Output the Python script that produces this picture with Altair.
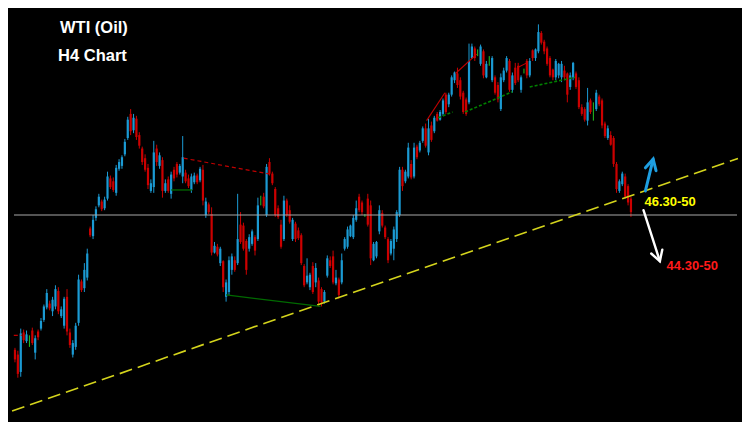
import altair as alt
import pandas as pd

# ---- H4 candles (price in USD) ----
OPEN = [42.15, 42.00, 41.46, 42.69, 42.42, 42.45, 42.75, 42.06, 42.72, 42.81,
        43.08, 43.47, 43.59, 43.35, 43.50, 43.98, 43.20, 42.90, 43.80, 42.69,
        42.00, 42.24, 42.99, 44.28, 44.07, 44.40, 45.93, 45.69, 46.26, 46.65,
        46.77, 46.56, 46.86, 47.49, 47.40, 47.04, 47.79, 47.88, 48.24, 48.75,
        49.50, 48.99, 49.35, 48.84, 48.42, 48.12, 47.82, 47.10, 47.22, 48.42,
        47.88, 48.06, 47.10, 47.46, 47.01, 47.76, 47.94, 47.67, 47.55, 47.67,
        47.49, 47.13, 47.37, 47.58, 47.43, 47.76, 46.35, 46.68, 46.38, 45.18,
        45.36, 44.85, 44.91, 43.80, 43.95, 44.64, 44.94, 44.85, 46.05, 46.02,
        45.54, 45.30, 45.45, 45.66, 45.60, 46.80, 46.92, 46.35, 48.00, 47.64,
        47.16, 46.56, 46.05, 45.60, 46.80, 46.50, 45.60, 46.08, 45.87, 45.72,
        44.76, 44.25, 44.10, 44.76, 44.25, 44.31, 44.04, 43.65, 44.46, 44.94,
        45.06, 44.22, 44.34, 44.25, 45.30, 45.36, 45.69, 45.66, 46.20, 46.92,
        46.74, 46.32, 46.86, 46.65, 44.94, 45.06, 45.84, 46.41, 45.96, 45.60,
        45.15, 45.30, 45.60, 46.35, 47.76,
        47.40, 47.55, 47.94, 47.55, 48.48,
        48.36, 48.66, 49.05, 48.30, 49.14, 48.96, 49.50, 49.32, 49.50, 50.10,
        49.80, 50.10, 50.55, 50.76, 50.55, 50.16, 49.95, 49.86, 51.24, 51.54,
        51.42, 51.06, 51.45, 50.64, 51.15, 50.55, 50.64, 50.40, 49.65, 50.55,
        50.85, 51.15, 50.25, 50.94, 51.00, 50.25, 50.85, 51.15, 50.70, 51.48,
        51.24, 51.45, 52.02, 51.75, 51.54, 51.24, 50.88, 50.64, 50.70, 50.64,
        50.85, 50.76, 50.34, 50.64, 50.76, 50.55, 49.71, 49.65, 49.29, 49.92,
        49.59, 49.65, 50.04, 49.92, 49.20, 48.75, 48.84, 48.75, 47.94, 47.10,
        47.31, 47.55, 47.25, 46.86]

HIGH = [42.21, 42.12, 42.81, 42.78, 42.75, 42.60, 42.84, 42.60, 42.78, 43.14,
        43.56, 44.04, 43.68, 43.80, 44.16, 44.10, 43.50, 43.80, 44.04, 42.81,
        42.45, 42.99, 44.49, 44.34, 44.85, 45.30, 45.99, 46.35, 46.62, 47.01,
        46.83, 46.92, 47.70, 47.58, 47.52, 47.91, 48.09, 48.21, 48.72, 49.41,
        49.65, 49.50, 49.44, 48.93, 48.48, 48.24, 47.94, 47.46, 48.66, 48.54,
        48.30, 48.15, 47.46, 47.55, 47.70, 47.85, 48.00, 47.94, 48.81, 47.76,
        47.61, 47.64, 47.67, 47.64, 47.85, 47.91, 46.89, 46.74, 46.59, 45.51,
        45.45, 45.36, 44.94, 44.34, 45.06, 45.15, 45.06, 47.01, 46.44, 46.11,
        45.60, 45.75, 45.90, 45.72, 46.89, 46.95, 47.04, 47.94, 48.12, 47.70,
        47.22, 46.65, 46.20, 46.95, 46.86, 46.65, 46.26, 46.14, 45.96, 45.78,
        44.82, 45.00, 44.55, 44.88, 44.85, 44.40, 44.10, 44.01, 45.09, 45.06,
        45.24, 44.64, 44.40, 45.15, 45.66, 45.99, 46.05, 46.35, 46.80, 47.01,
        46.80, 46.38, 47.01, 46.80, 45.51, 45.54, 46.65, 46.50, 46.02, 45.66,
        45.60, 45.99, 46.50, 47.85, 47.85,
        47.76, 48.60, 48.06, 48.60, 48.54,
        48.66, 49.11, 49.20, 49.35, 49.26, 49.44, 49.56, 49.62, 49.98, 50.16,
        50.16, 50.70, 50.82, 50.94, 50.64, 50.22, 50.01, 51.69, 51.69, 51.60,
        51.51, 51.66, 51.51, 51.15, 51.30, 51.30, 50.70, 50.49, 50.76, 50.94,
        51.30, 51.21, 50.79, 51.09, 51.09, 50.70, 50.91, 51.21, 51.24, 51.51,
        51.54, 52.29, 52.08, 51.81, 51.60, 51.30, 50.91, 51.21, 51.09, 51.15,
        51.00, 50.79, 50.79, 51.12, 50.82, 50.64, 49.80, 49.71, 50.31, 49.98,
        49.86, 50.25, 50.10, 49.98, 49.26, 49.14, 48.96, 48.81, 48.00, 47.46,
        47.70, 47.64, 47.31, 46.92]

LOW = [41.76, 41.28, 41.31, 42.36, 42.36, 42.24, 42.30, 41.85, 42.45, 42.75,
       43.02, 43.41, 43.38, 43.20, 43.41, 43.26, 43.14, 42.81, 42.60, 42.21,
       41.91, 42.15, 42.90, 43.95, 43.95, 44.31, 45.66, 45.60, 46.17, 46.59,
       46.47, 46.50, 46.80, 47.16, 47.07, 46.95, 47.73, 47.79, 48.18, 48.69,
       48.84, 48.90, 48.69, 48.42, 47.91, 47.70, 47.16, 47.04, 47.04, 47.88,
       47.79, 46.89, 47.04, 47.04, 46.86, 47.40, 47.52, 47.61, 47.34, 47.34,
       47.19, 47.04, 47.31, 47.31, 47.37, 46.65, 46.26, 46.38, 45.09, 45.15,
       45.06, 44.76, 43.95, 43.65, 43.86, 44.49, 44.58, 44.79, 45.45, 45.24,
       44.49, 45.21, 45.39, 45.09, 45.54, 46.65, 46.56, 46.29, 47.58, 47.28,
       46.29, 46.23, 45.30, 45.54, 46.29, 46.08, 45.54, 45.51, 45.57, 44.79,
       44.10, 44.19, 44.01, 43.89, 44.10, 43.50, 43.50, 43.59, 44.40, 44.70,
       44.19, 44.16, 43.74, 44.19, 45.24, 45.30, 45.66, 45.60, 46.14, 46.44,
       46.35, 46.29, 45.99, 44.79, 44.91, 45.00, 45.75, 45.96, 45.60, 44.85,
       45.09, 44.94, 45.51, 46.29, 47.10,
       47.34, 47.49, 47.46, 47.49, 48.09,
       48.30, 48.60, 48.45, 48.21, 48.63, 48.90, 49.26, 49.29, 49.44, 49.50,
       49.71, 50.04, 50.46, 50.31, 49.95, 49.50, 49.44, 49.80, 51.21, 51.15,
       51.30, 51.00, 50.61, 50.61, 51.00, 50.49, 50.10, 49.86, 49.59, 50.49,
       50.79, 50.19, 50.16, 50.40, 50.49, 50.16, 50.76, 50.61, 50.64, 51.15,
       51.15, 51.39, 51.66, 51.36, 51.00, 50.64, 50.55, 50.55, 50.61, 50.49,
       50.55, 49.86, 50.25, 50.55, 50.28, 49.65, 49.44, 49.26, 49.14, 49.50,
       49.29, 49.59, 49.74, 49.05, 48.75, 48.69, 48.51, 47.85, 47.04, 47.04,
       47.25, 46.86, 46.65, 46.29]

CLOSE = [41.85, 41.40, 42.66, 42.45, 42.63, 42.45, 42.36, 42.51, 42.54, 43.05,
         43.50, 43.92, 43.44, 43.71, 44.04, 43.35, 43.41, 43.74, 42.72, 42.30,
         42.36, 42.90, 44.34, 44.01, 44.64, 45.15, 45.72, 46.20, 46.53, 46.92,
         46.53, 46.83, 47.55, 47.22, 47.13, 47.82, 48.00, 48.15, 48.63, 49.32,
         48.96, 49.38, 48.78, 48.51, 48.00, 47.76, 47.28, 47.34, 48.30, 48.00,
         48.21, 47.10, 47.34, 47.10, 47.61, 47.49, 47.61, 47.88, 48.15, 47.40,
         47.25, 47.55, 47.58, 47.37, 47.79, 46.80, 46.77, 46.44, 45.18, 45.39,
         45.12, 45.30, 44.10, 44.25, 44.94, 45.06, 44.64, 45.60, 45.51, 45.30,
         44.64, 45.66, 45.84, 45.24, 46.65, 46.80, 46.62, 47.85, 47.64, 47.34,
         46.35, 46.29, 45.36, 46.80, 46.35, 46.14, 46.20, 45.60, 45.63, 44.85,
         44.16, 44.46, 44.49, 43.95, 44.70, 43.65, 43.62, 43.95, 45.00, 44.76,
         44.25, 44.40, 43.86, 44.94, 45.60, 45.90, 46.02, 46.26, 46.56, 46.50,
         46.44, 46.32, 46.05, 45.00, 45.45, 45.51, 46.50, 46.02, 45.66, 44.94,
         45.54, 45.90, 46.44, 47.76, 47.25,
         47.70, 48.45, 47.52, 48.45, 48.15,
         48.60, 49.05, 48.51, 49.05, 48.69, 49.38, 49.29, 49.56, 49.92, 49.56,
         50.10, 50.64, 50.79, 50.40, 50.04, 49.56, 49.50, 51.15, 51.60, 51.24,
         51.42, 51.60, 50.70, 51.06, 51.15, 51.24, 50.16, 49.95, 50.64, 50.85,
         51.24, 50.25, 50.70, 50.46, 50.55, 50.64, 50.85, 50.70, 51.15, 51.24,
         51.51, 52.05, 51.72, 51.45, 51.06, 50.70, 50.64, 51.15, 51.06, 51.06,
         50.64, 50.10, 50.70, 51.09, 50.34, 49.71, 49.50, 49.32, 49.86, 49.56,
         49.59, 50.16, 49.80, 49.14, 48.81, 49.05, 48.54, 47.94, 47.16, 47.40,
         47.64, 46.92, 46.74, 46.44]

# ---- drawn objects: (bar index, price) ----
REF_LEVEL = 46.35
TREND_I = [-1.0, 250.0]
TREND_P = [40.24, 48.11]

RED_DASH_I = [[58.33, 89.0], [-0.4, 2.33]]
RED_DASH_P = [[48.12, 47.61], [42.60, 42.60]]

GREEN_SOLID_I = [[54.0, 61.33], [73.0, 105.67]]
GREEN_SOLID_P = [[47.13, 47.13], [43.86, 43.50]]

GREEN_DOT_I = [[146.33, 151.33], [155.67, 172.0], [178.0, 193.67]]
GREEN_DOT_P = [[49.38, 49.56], [49.56, 50.19], [50.34, 50.64]]

RED_THIN_I = [[142.33, 148.67], [152.33, 159.67], [173.67, 177.0]]
RED_THIN_P = [[49.29, 50.16], [50.76, 51.36], [50.94, 51.09]]

UP_ARROW_I = [[218.0, 220.67], [218.0, 220.67, 221.67]]
UP_ARROW_P = [[47.10, 48.09], [47.82, 48.09, 47.73]]
DOWN_ARROW_I = [[217.33, 223.0], [220.0, 223.0, 223.83]]
DOWN_ARROW_P = [[46.50, 44.91], [45.15, 44.91, 45.27]]

LABELS = ["46.30-50", "44.30-50"]
LABEL_I = [217.67, 225.33]
LABEL_P = [46.77, 44.76]
LABEL_COLORS = ["#ffff00", "#ff1a1a"]

TITLES = ["WTI (Oil)", "H4 Chart"]

W, H = 734, 414
sx, sy = W / 750, H / 430

xs = alt.Scale(domain=[-1 / 3, 249 + 2 / 3], nice=False, zero=False)
ys = alt.Scale(domain=[39.9, 52.8], nice=False, zero=False)


def direction(o, c):
    if c > o:
        return "up"
    if c < o:
        return "down"
    return "flat"


cdf = pd.DataFrame({
    "i": list(range(len(OPEN))),
    "o": OPEN, "h": HIGH, "l": LOW, "c": CLOSE,
})
cdf["d"] = [direction(o, c) for o, c in zip(OPEN, CLOSE)]

cscale = alt.Scale(domain=["up", "down", "flat"], range=["#1b9ad3", "#cc0000", "#22c522"])

wicks = alt.Chart(cdf).mark_rule(strokeWidth=1).encode(
    x=alt.X("i:Q", scale=xs, axis=None),
    y=alt.Y("l:Q", scale=ys, axis=None),
    y2="h:Q",
    color=alt.Color("d:N", scale=cscale, legend=None),
)
bodies = alt.Chart(cdf).mark_rule(strokeWidth=2.2).encode(
    x=alt.X("i:Q", scale=xs, axis=None),
    y=alt.Y("o:Q", scale=ys, axis=None),
    y2="c:Q",
    color=alt.Color("d:N", scale=cscale, legend=None),
)


def seg_df(list_i, list_p):
    rows = []
    for g, (ii, pp) in enumerate(zip(list_i, list_p)):
        for k, (a, b) in enumerate(zip(ii, pp)):
            rows.append({"g": g, "k": k, "i": a, "p": b})
    return pd.DataFrame(rows)


def line_layer(list_i, list_p, color, width, dash=None, cap="butt"):
    kw = dict(color=color, strokeWidth=width, strokeCap=cap, strokeJoin="miter")
    if dash:
        kw["strokeDash"] = dash
    return alt.Chart(seg_df(list_i, list_p)).mark_line(**kw).encode(
        x=alt.X("i:Q", scale=xs, axis=None),
        y=alt.Y("p:Q", scale=ys, axis=None),
        detail="g:N",
        order="k:Q",
    )


level = alt.Chart(pd.DataFrame({"p": [REF_LEVEL]})).mark_rule(
    color="#a8a8a8", strokeWidth=1.2
).encode(y=alt.Y("p:Q", scale=ys, axis=None))

trend = line_layer([TREND_I], [TREND_P], "#d4d41c", 1.6, dash=[13, 6])
red_dash = line_layer(RED_DASH_I, RED_DASH_P, "#c00000", 1.2, dash=[4, 3])
green_solid = line_layer(GREEN_SOLID_I, GREEN_SOLID_P, "#006a00", 1.3)
green_dot = line_layer(GREEN_DOT_I, GREEN_DOT_P, "#008000", 1.6, dash=[3, 2])
red_thin = line_layer(RED_THIN_I, RED_THIN_P, "#c00000", 1.1)
up_arrow = line_layer(UP_ARROW_I, UP_ARROW_P, "#1e9ee0", 3, cap="round")
down_arrow = line_layer(DOWN_ARROW_I, DOWN_ARROW_P, "#ffffff", 2.4, cap="round")

ldf = pd.DataFrame({"t": LABELS, "i": LABEL_I, "p": LABEL_P, "col": LABEL_COLORS})
labels = alt.Chart(ldf).mark_text(
    align="left", baseline="middle", font="Liberation Sans", fontWeight="bold", fontSize=13
).encode(
    x=alt.X("i:Q", scale=xs, axis=None),
    y=alt.Y("p:Q", scale=ys, axis=None),
    text="t:N",
    color=alt.Color("col:N", scale=None, legend=None),
)

t1 = alt.Chart(pd.DataFrame({"t": [TITLES[0]]})).mark_text(
    align="left", baseline="middle", font="Liberation Sans", fontWeight="bold",
    fontSize=16.5, color="white"
).encode(x=alt.value(47 * sx), y=alt.value(21 * sy), text="t:N")
t2 = alt.Chart(pd.DataFrame({"t": [TITLES[1]]})).mark_text(
    align="left", baseline="middle", font="Liberation Sans", fontWeight="bold",
    fontSize=16.5, color="white"
).encode(x=alt.value(45 * sx), y=alt.value(50 * sy), text="t:N")

chart = alt.layer(
    wicks, bodies, level, trend, red_dash, green_solid, green_dot, red_thin,
    up_arrow, down_arrow, labels, t1, t2
).properties(
    width=W, height=H,
    autosize=alt.AutoSizeParams(type="fit", contains="padding"),
    padding=0,
    background="#000000",
).configure_view(stroke=None, fill="#000000")

chart.save("out.html", embed_options={"renderer": "svg", "actions": False})
